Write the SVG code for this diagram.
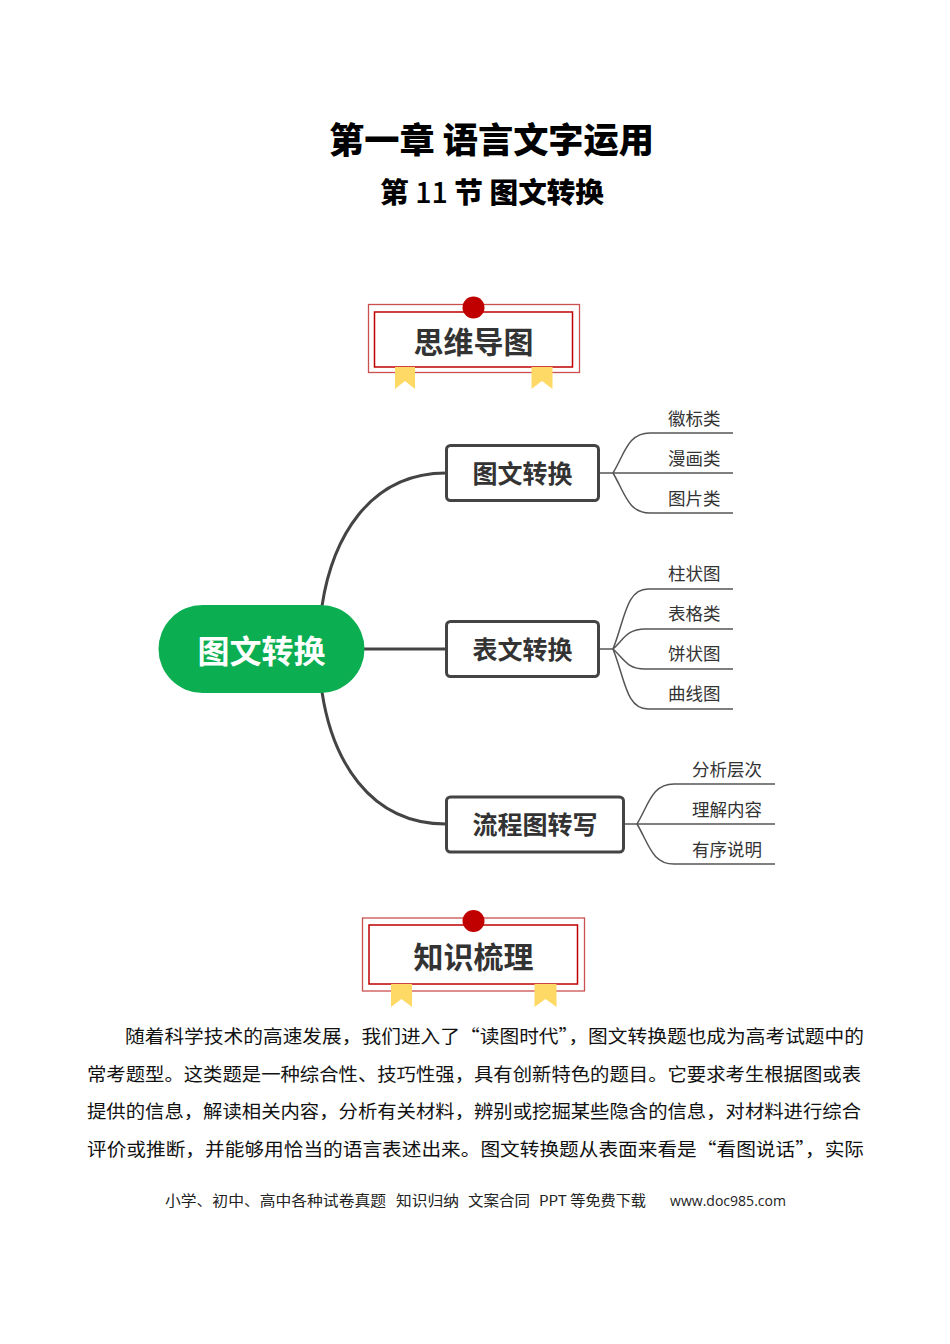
<svg xmlns="http://www.w3.org/2000/svg" width="950" height="1344" viewBox="0 0 950 1344">
<style>
.cjk{font-family:"Noto Sans CJK SC","Noto Sans",sans-serif}
.title{font-weight:900;fill:#000}
.ban-o{fill:none;stroke:#c9504f;stroke-width:1.3}
.ban-i{fill:#fff;stroke:#c00000;stroke-width:1.5}
.dot{fill:#c00000}
.rib{fill:#ffd966}
.bantxt{font-size:30px;font-weight:700;fill:#333}
.box{fill:#fff;stroke:#444;stroke-width:3}
.boxtxt{font-size:25px;font-weight:700;fill:#333}
.main{stroke:#444;stroke-width:3;fill:none}
.sub{stroke:#555;stroke-width:1.5;fill:none}
.leaf{font-size:17.5px;fill:#333}
.para{font-size:18.5px;fill:#111}
.foot{font-size:14.5px;fill:#222}
</style>

<g id="title">
<text class="cjk title" x="491.5" y="153" font-size="35" text-anchor="middle" textLength="325" lengthAdjust="spacingAndGlyphs">第一章 语言文字运用</text>
<text class="cjk title" x="492" y="203" font-size="28" text-anchor="middle" textLength="224" lengthAdjust="spacingAndGlyphs">第 <tspan font-weight="500">11</tspan> 节 图文转换</text>
</g>

<g id="banner-mindmap">
<rect class="ban-o" x="368.5" y="304.5" width="211" height="68"/>
<rect class="ban-i" x="374.5" y="312" width="198" height="55"/>
<circle class="dot" cx="473.5" cy="307.5" r="11"/>
<polygon class="rib" points="395,367 415,367 415,389 405,381 395,389"/>
<polygon class="rib" points="531.5,367 552.5,367 552.5,389 542,381 531.5,389"/>
<text class="cjk bantxt" x="473.5" y="353" text-anchor="middle">思维导图</text>
</g>

<g id="connectors">
<path class="main" d="M322,606 C332,540 368,473 446,473"/>
<path class="main" d="M322,692 C332,758 368,824 446,824"/>
<path class="main" d="M364,649 L446,649"/>
<path class="sub" d="M599,473 L613,473"/>
<path class="sub" d="M613,473 C625,453 628,433 650,433 L733,433"/>
<path class="sub" d="M613,473 L733,473"/>
<path class="sub" d="M613,473 C625,493 628,513 650,513 L733,513"/>
<path class="sub" d="M598,649 L613,649"/>
<path class="sub" d="M613,649 C625,619 626,589 648,589 L733,589"/>
<path class="sub" d="M613,649 C624,639 627,629 645,629 L733,629"/>
<path class="sub" d="M613,649 C624,659 627,669 645,669 L733,669"/>
<path class="sub" d="M613,649 C625,679 626,709 648,709 L733,709"/>
<path class="sub" d="M624,824 L637,824"/>
<path class="sub" d="M637,824 C649,804 652,784 674,784 L775,784"/>
<path class="sub" d="M637,824 L775,824"/>
<path class="sub" d="M637,824 C649,844 652,864 674,864 L775,864"/>
</g>

<g id="node-center">
<rect x="158.5" y="605" width="206" height="88" rx="44" fill="#0bae51"/>
<text class="cjk" x="261.5" y="663" font-size="32" font-weight="700" fill="#fff" text-anchor="middle">图文转换</text>
</g>

<g id="node-tuwen">
<rect class="box" x="446.5" y="445.5" width="152" height="55" rx="4"/>
<text class="cjk boxtxt" x="522.5" y="483" text-anchor="middle">图文转换</text>
</g>
<g id="node-biaowen">
<rect class="box" x="446.5" y="621.5" width="152" height="55" rx="4"/>
<text class="cjk boxtxt" x="522.5" y="659" text-anchor="middle">表文转换</text>
</g>
<g id="node-liucheng">
<rect class="box" x="446.5" y="797" width="177" height="55" rx="4"/>
<text class="cjk boxtxt" x="535" y="834" text-anchor="middle">流程图转写</text>
</g>

<g id="leaves-1">
<text class="cjk leaf" x="668" y="425">徽标类</text>
<text class="cjk leaf" x="668" y="465">漫画类</text>
<text class="cjk leaf" x="668" y="505">图片类</text>
</g>
<g id="leaves-2">
<text class="cjk leaf" x="668" y="580">柱状图</text>
<text class="cjk leaf" x="668" y="620">表格类</text>
<text class="cjk leaf" x="668" y="660">饼状图</text>
<text class="cjk leaf" x="668" y="700">曲线图</text>
</g>
<g id="leaves-3">
<text class="cjk leaf" x="692" y="776">分析层次</text>
<text class="cjk leaf" x="692" y="816">理解内容</text>
<text class="cjk leaf" x="692" y="856">有序说明</text>
</g>

<g id="banner-knowledge">
<rect class="ban-o" x="362.5" y="918" width="222" height="73"/>
<rect class="ban-i" x="369" y="925" width="208.5" height="59"/>
<circle class="dot" cx="473.5" cy="921" r="11"/>
<polygon class="rib" points="391,984 412,984 412,1007 401.5,999 391,1007"/>
<polygon class="rib" points="534.5,984 556.5,984 556.5,1007 545.5,999 534.5,1007"/>
<text class="cjk bantxt" x="473.5" y="968" text-anchor="middle" font-size="31">知识梳理</text>
</g>

<g id="paragraph">
<text class="cjk para" x="125" y="1043" textLength="739" lengthAdjust="spacingAndGlyphs">随着科学技术的高速发展，我们进入了“读图时代”，图文转换题也成为高考试题中的</text>
<text class="cjk para" x="87" y="1081" textLength="774" lengthAdjust="spacingAndGlyphs">常考题型。这类题是一种综合性、技巧性强，具有创新特色的题目。它要求考生根据图或表</text>
<text class="cjk para" x="87" y="1118" textLength="774" lengthAdjust="spacingAndGlyphs">提供的信息，解读相关内容，分析有关材料，辨别或挖掘某些隐含的信息，对材料进行综合</text>
<text class="cjk para" x="87" y="1156" textLength="777" lengthAdjust="spacingAndGlyphs">评价或推断，并能够用恰当的语言表述出来。图文转换题从表面来看是“看图说话”，实际</text>
</g>

<g id="footer">
<text class="cjk foot" x="165" y="1206" textLength="221" lengthAdjust="spacingAndGlyphs">小学、初中、高中各种试卷真题</text>
<text class="cjk foot" x="396" y="1206" textLength="63" lengthAdjust="spacingAndGlyphs">知识归纳</text>
<text class="cjk foot" x="468" y="1206" textLength="62" lengthAdjust="spacingAndGlyphs">文案合同</text>
<text class="cjk foot" x="539" y="1206" textLength="107" lengthAdjust="spacingAndGlyphs">PPT 等免费下载</text>
<text class="foot" x="670" y="1206" font-family="'Open Sans','DejaVu Sans',sans-serif" textLength="116" lengthAdjust="spacingAndGlyphs">www.doc985.com</text>
</g>
</svg>
